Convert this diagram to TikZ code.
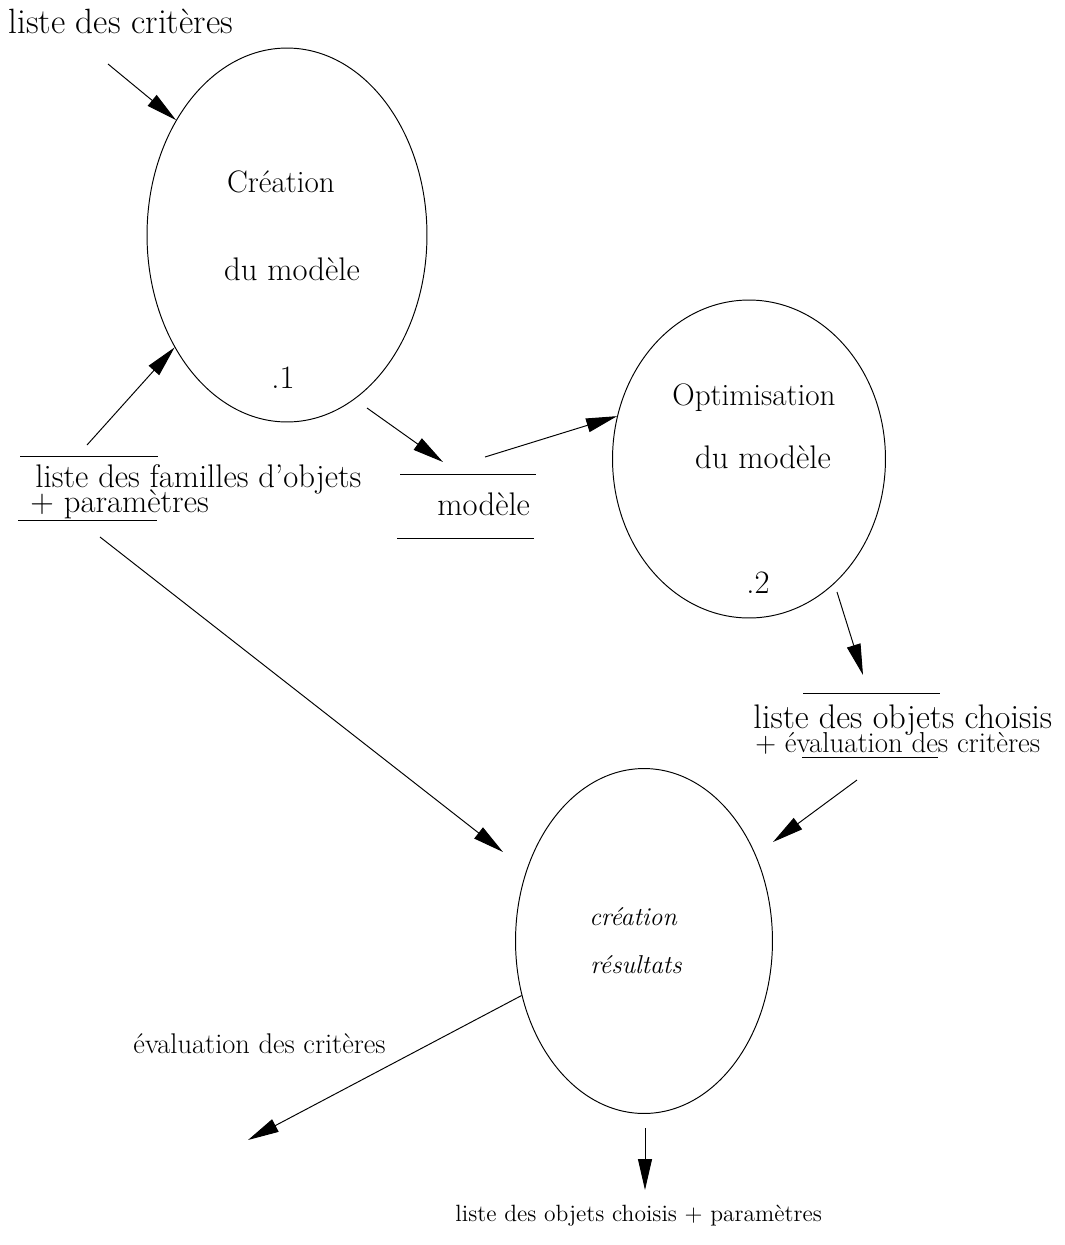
\documentclass[tikz,border=0pt]{standalone}
\usepackage{amsmath}
\usetikzlibrary{arrows.meta,shapes.geometric}

\tikzset{
  proc/.style={ellipse,draw,inner sep=0pt},
  flow/.style={-{Triangle[length=0.62cm,width=0.28cm]}},
  big/.style={inner sep=0pt,font=\fontsize{18.6}{21}\selectfont},
  mid/.style={inner sep=0pt,font=\fontsize{17.7}{20}\selectfont},
  sml/.style={inner sep=0pt,font=\fontsize{16.4}{19}\selectfont},
  ital/.style={inner sep=0pt,font=\fontsize{14.7}{17}\selectfont\itshape}
}

\begin{document}
\begin{tikzpicture}[x=0.02cm,y=-0.02cm,line width=.55pt]
\useasboundingbox (0,0) rectangle (1065,1245);
% processes
\node[proc,minimum width=5.6cm,minimum height=7.48cm] (cm) at (287,235) {};
\node[proc,minimum width=5.46cm,minimum height=6.36cm] (op) at (749,459) {};
\node[proc,minimum width=5.14cm,minimum height=6.9cm] (res) at (644,941) {};
\node[mid,anchor=base] (cm1) at (281,192) {Création};
\node[big,anchor=base] (cm2) at (292,280) {du modèle};
\node[big,anchor=base] (cmn) at (283,388) {.1};
\node[mid,anchor=base] (op1) at (754,405) {Optimisation};
\node[big,anchor=base] (op2) at (763,468) {du modèle};
\node[big,anchor=base] (opn) at (758,593) {.2};
\node[ital,anchor=base] (res1) at (633,925) {création};
\node[ital,anchor=base] (res2) at (636,973) {résultats};
% texts and stores
\node[inner sep=0pt,font=\fontsize{20}{23}\selectfont,anchor=base west] (crit) at (8,33) {liste des critères};
\node[big,anchor=base west] (fam) at (35,487) {liste des familles d'objets};
\node[big,anchor=base west] (famp) at (30,512) {+ paramètres};
\node[big,anchor=base west] (mod) at (437,515) {modèle};
\node[inner sep=0pt,font=\fontsize{19.4}{22}\selectfont,anchor=base west] (cho) at (753,728) {liste des objets choisis};
\node[sml,anchor=base west] (choe) at (755,752) {+ évaluation des critères};
\node[inner sep=0pt,font=\fontsize{16.2}{19}\selectfont,anchor=base west] (eval) at (133,1053) {évaluation des critères};
\node[inner sep=0pt,font=\fontsize{13.4}{16}\selectfont,anchor=base west] (sort) at (455,1221) {liste des objets choisis + paramètres};
\draw (20,456)--(158,456) (18,520)--(157,520);
\draw (400,474)--(536,474) (397,538)--(534,538);
\draw (803,693)--(940,693) (802,757)--(938,757);
% flows
\coordinate (a1) at (108,64);
\coordinate (a2) at (87,445);
\coordinate (a3) at (367,408);
\coordinate (a3t) at (443,462);
\coordinate (a4) at (485,457);
\coordinate (a5) at (837,592);
\coordinate (a5t) at (863,675);
\coordinate (a6) at (100,537);
\coordinate (a6t) at (503,852);
\coordinate (a7) at (857,780);
\coordinate (a7t) at (773,842);
\coordinate (a8t) at (248,1140);
\coordinate (a9) at (645,1128);
\coordinate (a9t) at (645,1190);
\draw[flow] (a1)--(cm.134);
\draw[flow] (a2)--(cm.225);
\draw[flow] (a3)--(a3t);
\draw[flow] (a4)--(op.162);
\draw[flow] (a5)--(a5t);
\draw[flow] (a6)--(a6t);
\draw[flow] (a7)--(a7t);
\draw[flow] (res.204)--(a8t);
\draw[flow] (a9)--(a9t);
\end{tikzpicture}
\end{document}
